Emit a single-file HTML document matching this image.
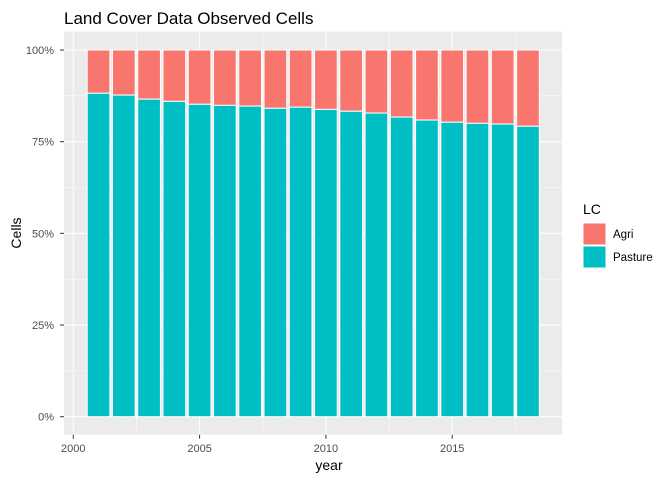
<!DOCTYPE html>
<html><head><meta charset="utf-8"><style>
body{margin:0;background:#fff;font-family:"Liberation Sans",Arial,sans-serif;}
</style></head><body>
<svg id="chart" width="672" height="480" xmlns="http://www.w3.org/2000/svg">
<text x="64" y="24" font-size="17" fill="#000">Land Cover Data Observed Cells</text>
<rect x="64" y="31.6" width="498" height="403" fill="#EBEBEB"/>
<g id="grid"></g><g id="bars"></g><g id="axes"></g>
<text x="329" y="470" font-size="14" text-anchor="middle" fill="#000">year</text>
<text transform="translate(21,233) rotate(-90)" font-size="14" text-anchor="middle" fill="#000">Cells</text>
<g>
<text x="583" y="214" font-size="14" fill="#000">LC</text>
<rect x="583" y="223" width="23" height="22" fill="#F8766D" stroke="#fff"/>
<text x="613" y="238" font-size="11.5" fill="#000">Agri</text>
<rect x="583" y="246" width="23" height="22" fill="#00BFC4" stroke="#fff"/>
<text x="613" y="261" font-size="11.5" fill="#000">Pasture</text>
</g>
</svg>
<script>
const years=[2001,2002,2003,2004,2005,2006,2007,2008,2009,2010,2011,2012,2013,2014,2015,2016,2017,2018];
const pasture=[88.2,87.7,86.6,86.0,85.2,84.9,84.7,84.1,84.4,83.8,83.3,82.8,81.7,80.9,80.3,80.0,79.8,79.2];
const xTicks=[2000,2005,2010,2015];
const yTicks=[0,25,50,75,100];
const NS="http://www.w3.org/2000/svg";
const x=v=>73.3+(v-2000)*25.26;
const y=v=>416.7-v*3.667;
function mk(tag,attrs,parent){const e=document.createElementNS(NS,tag);for(const k in attrs)e.setAttribute(k,attrs[k]);parent.appendChild(e);return e;}
const grid=document.getElementById('grid'),bars=document.getElementById('bars'),axes=document.getElementById('axes');
for(let i=0;i<yTicks.length;i++){
 const l=mk('line',{x1:64,x2:562,y1:y(yTicks[i]),y2:y(yTicks[i]),stroke:'#fff','stroke-width':1.1},grid);
 
 
 if(i<yTicks.length-1){const m=mk('line',{x1:64,x2:562,y1:y(yTicks[i]+12.5),y2:y(yTicks[i]+12.5),stroke:'#fff','stroke-width':0.5},grid);
 
 }
 const t=mk('text',{x:54,y:y(yTicks[i])+4,'font-size':11,'text-anchor':'end',fill:'#4D4D4D'},axes);t.textContent=yTicks[i]+'%';
 
 
 mk('line',{x1:60,x2:64,y1:y(yTicks[i]),y2:y(yTicks[i]),stroke:'#333'},axes);
}
for(let i=0;i<xTicks.length;i++){
 const l=mk('line',{x1:x(xTicks[i]),x2:x(xTicks[i]),y1:31.6,y2:434.7,stroke:'#fff','stroke-width':1.1},grid);
 
 
 const m=mk('line',{x1:x(xTicks[i]+2.5),x2:x(xTicks[i]+2.5),y1:31.6,y2:434.7,stroke:'#fff','stroke-width':0.5},grid);
 
 
 const t=mk('text',{x:x(xTicks[i]),y:452,'font-size':11,'text-anchor':'middle',fill:'#4D4D4D'},axes);t.textContent=xTicks[i];
 
 
 mk('line',{x1:x(xTicks[i]),x2:x(xTicks[i]),y1:434.7,y2:438.7,stroke:'#333'},axes);
}
const bw=22.7;
for(let i=0;i<years.length;i++){
 const cx=x(years[i]);
 const a=mk('rect',{x:cx-bw/2,y:y(100),width:bw,height:y(pasture[i])-y(100),fill:'#F8766D',stroke:'#fff','stroke-width':1},bars);
 
 
 const p=mk('rect',{x:cx-bw/2,y:y(pasture[i]),width:bw,height:y(0)-y(pasture[i]),fill:'#00BFC4',stroke:'#fff','stroke-width':1},bars);
 
 
}
</script>
</body></html>
